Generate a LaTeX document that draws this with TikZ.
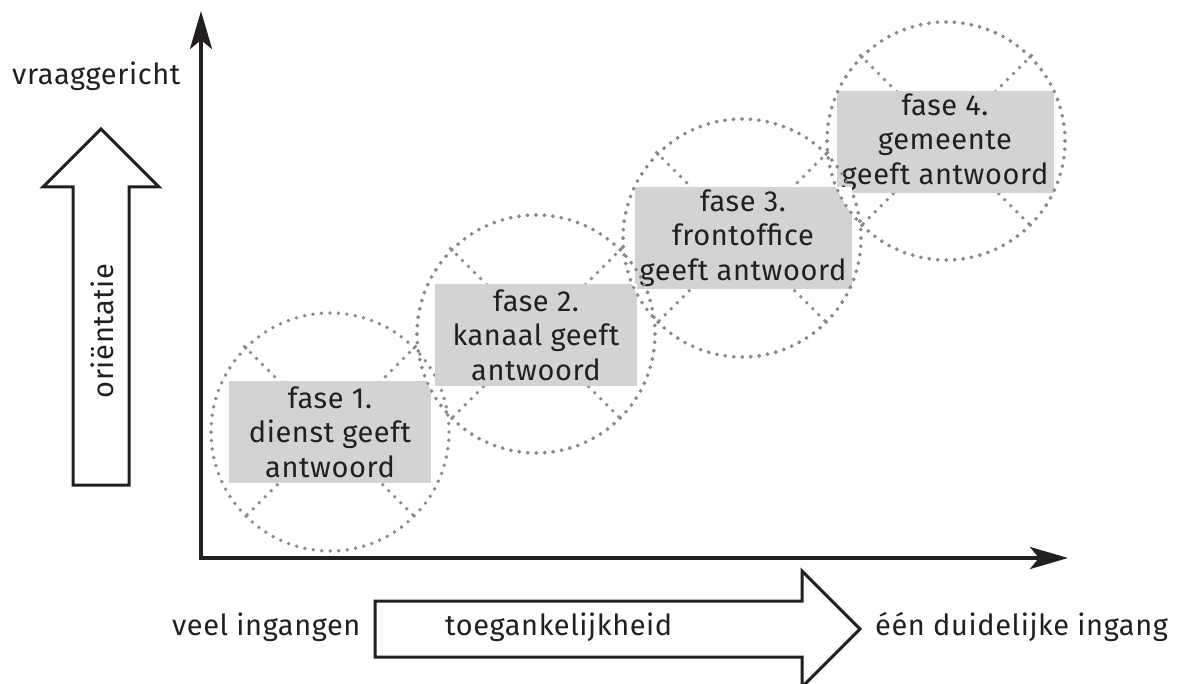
\documentclass[tikz,border=0pt]{standalone}
\usepackage{fontspec}
\setmainfont{Fira Sans}[LetterSpace=2]
\usetikzlibrary{arrows.meta}
\definecolor{ink}{HTML}{231F20}
\definecolor{boxgray}{HTML}{D1D3D4}
\definecolor{dotgray}{HTML}{87898C}
\tikzset{
  dotline/.style={draw=dotgray, line width=3.8pt, line cap=round, dash pattern=on 0pt off 8.5pt},
  ring/.style={circle, minimum size=238pt, inner sep=0pt, dotline},
  phasebox/.style={fill=boxgray, minimum width=202pt, minimum height=102pt, inner sep=0pt,
    align=center, text=ink, font=\fontsize{29}{34.5}\selectfont},
  lbl/.style={text=ink, inner sep=0pt, anchor=base west, font=\fontsize{29}{32}\selectfont},
  hollow/.style={draw=ink, line width=3pt, fill=white, line join=miter},
  axisline/.style={draw=ink, line width=4pt, line join=miter,
    {Stealth[length=38pt,width=22pt,inset=9pt]}-{Stealth[length=38pt,width=22pt,inset=9pt]}}
}
\begin{document}
\begin{tikzpicture}[x=1pt,y=-1pt]
\useasboundingbox (0,0) rectangle (1199,684);
% axes
\coordinate (O) at (201,558);
\coordinate (ytip) at (201,11);
\coordinate (xtip) at (1068,558);
\draw[axisline] (ytip) -- (O) -- (xtip);
% rings
\node[ring] (c1) at (330,432) {};
\node[ring] (c2) at (536,334) {};
\node[ring] (c3) at (742,238) {};
\node[ring] (c4) at (946,141) {};
\foreach \c in {c1,c2,c3,c4}{
  \draw[dotline] (\c.north west) -- (\c.south east);
  \draw[dotline] (\c.north east) -- (\c.south west);
}
% boxes
\node[phasebox] (p1) at (330,432) {fase 1.\\dienst geeft\\antwoord};
\node[phasebox] (p2) at (536,335) {fase 2.\\kanaal geeft\\antwoord};
\node[phasebox, minimum width=217pt] (p3) at (743,238) {fase 3.\\frontoffice\\geeft antwoord};
\node[phasebox, minimum width=217pt] (p4) at (945,142) {fase 4.\\gemeente\\geeft antwoord};
% corners cut by the next ring
\foreach \b/\c in {p1/c2,p2/c3,p3/c4}{
  \begin{scope}
    \clip (\c.center) circle[radius=119];
    \fill[white] (\b.north west) rectangle (\b.south east);
  \end{scope}
  \node[ring] at (\c.center) {};
}
% vertical hollow arrow
\draw[hollow] (73,485) -- (73,187) -- (43,187) -- (101,129) -- (159,187) -- (129,187) -- (129,485) -- cycle;
\node[text=ink, inner sep=0pt, rotate=90, font=\fontsize{29}{32}\selectfont] (ori) at (102,331) {oriëntatie};
% horizontal hollow arrow
\draw[hollow] (375,601) -- (802,601) -- (802,571) -- (860,629) -- (802,687) -- (802,657) -- (375,657) -- cycle;
\node[lbl] (toeg) at (445,635) {toegankelijkheid};
% labels
\node[lbl] (vraag) at (12,85) {vraaggericht};
\node[lbl] (veel) at (172,635) {veel ingangen};
\node[lbl] (een) at (875,635) {één duidelijke ingang};
\end{tikzpicture}
\end{document}
